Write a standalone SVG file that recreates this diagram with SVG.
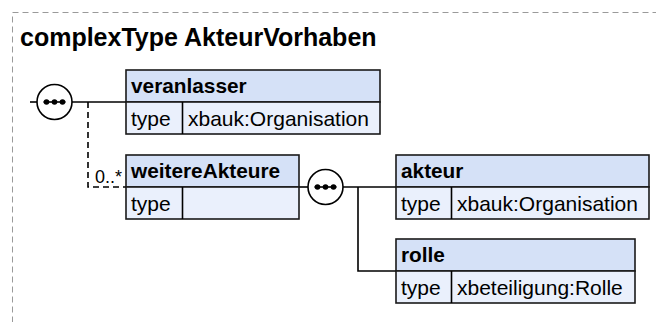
<svg xmlns="http://www.w3.org/2000/svg" width="656" height="322" viewBox="0 0 656 322">
<style>
.frame{fill:none;stroke:#9a9a9a;stroke-width:1;stroke-dasharray:6,4}
.title{font-family:"Liberation Sans",Arial,sans-serif;font-size:25px;font-weight:bold;fill:#000}
.hd{fill:#d5e1f7;stroke:#1a1a1a;stroke-width:1.6}
.bd{fill:#eaf0fc;stroke:#1a1a1a;stroke-width:1.6}
.nm{font-family:"Liberation Sans",Arial,sans-serif;font-size:20.8px;font-weight:bold;fill:#000}
.tx{font-family:"Liberation Sans",Arial,sans-serif;font-size:21px;fill:#000}
.ln{fill:none;stroke:#000;stroke-width:1.6}
.dl{fill:none;stroke:#000;stroke-width:1.6;stroke-dasharray:6,4}
.seq{fill:#fff;stroke:#000;stroke-width:1.6}
.occ{font-family:"Liberation Sans",Arial,sans-serif;font-size:18px;fill:#000}
</style>
<defs>
<g id="seqicon">
<circle class="seq" cx="0" cy="0" r="17.5"/>
<line x1="-11" y1="0" x2="11" y2="0" stroke="#000" stroke-width="1.6"/>
<circle cx="-8" cy="0" r="2.8" fill="#000"/>
<circle cx="0" cy="0" r="2.8" fill="#000"/>
<circle cx="8" cy="0" r="2.8" fill="#000"/>
</g>
</defs>
<rect class="frame" x="12.5" y="12.5" width="660" height="330"/>
<text class="title" x="20" y="46">complexType AkteurVorhaben</text>
<g id="connectors">
<line class="ln" x1="30" y1="102" x2="37" y2="102"/>
<line class="ln" x1="72" y1="102" x2="126" y2="102"/>
<polyline class="dl" points="88,102 88,187 126,187"/>
<line class="ln" x1="299" y1="187" x2="308" y2="187"/>
<line class="ln" x1="343" y1="187" x2="396" y2="187"/>
<polyline class="ln" points="358,187 358,271 396,271"/>
</g>
<g id="seq1"><use href="#seqicon" x="54.5" y="102"/></g>
<g id="seq2"><use href="#seqicon" x="325.5" y="187"/></g>
<g id="veranlasser">
<rect class="hd" x="126" y="70" width="254" height="32"/>
<rect class="bd" x="126" y="102" width="254" height="32"/>
<line class="ln" x1="182.5" y1="102" x2="182.5" y2="134"/>
<text class="nm" x="131" y="93">veranlasser</text>
<text class="tx" x="131" y="126">type</text>
<text class="tx" x="188" y="126">xbauk:Organisation</text>
</g>
<g id="weitereAkteure">
<rect class="hd" x="126" y="155" width="173" height="32"/>
<rect class="bd" x="126" y="187" width="173" height="32"/>
<line class="ln" x1="182.5" y1="187" x2="182.5" y2="219"/>
<text class="nm" x="131" y="178">weitereAkteure</text>
<text class="tx" x="131" y="211">type</text>
<text class="occ" x="95" y="183">0..*</text>
</g>
<g id="akteur">
<rect class="hd" x="396" y="155" width="253" height="32"/>
<rect class="bd" x="396" y="187" width="253" height="32"/>
<line class="ln" x1="451.5" y1="187" x2="451.5" y2="219"/>
<text class="nm" x="401" y="178">akteur</text>
<text class="tx" x="401" y="211">type</text>
<text class="tx" x="457" y="211">xbauk:Organisation</text>
</g>
<g id="rolle">
<rect class="hd" x="396" y="239" width="239" height="32"/>
<rect class="bd" x="396" y="271" width="239" height="32"/>
<line class="ln" x1="451.5" y1="271" x2="451.5" y2="303"/>
<text class="nm" x="401" y="262">rolle</text>
<text class="tx" x="401" y="295">type</text>
<text class="tx" x="457" y="295">xbeteiligung:Rolle</text>
</g>
</svg>
